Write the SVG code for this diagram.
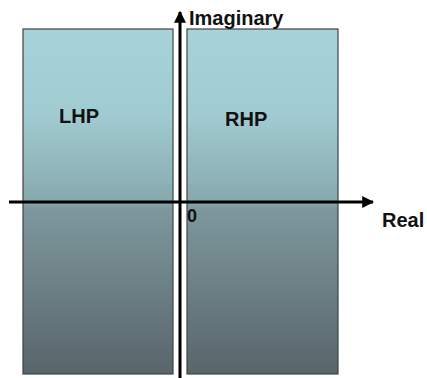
<svg xmlns="http://www.w3.org/2000/svg" width="427" height="378" viewBox="0 0 427 378">
<defs>
<linearGradient id="g" gradientUnits="userSpaceOnUse" x1="0" y1="29" x2="0" y2="374">
<stop offset="0" stop-color="#a7d3d8"/>
<stop offset="0.25" stop-color="#a0cbd0"/>
<stop offset="0.5" stop-color="#87a9ae"/>
<stop offset="0.52" stop-color="#7d989d"/>
<stop offset="1" stop-color="#59656b"/>
</linearGradient>
<marker id="ah" viewBox="0 0 10 10" refX="9" refY="5" markerWidth="4" markerHeight="4" orient="auto" markerUnits="strokeWidth">
<path d="M0,0 L10,5 L0,10 z" fill="#000"/>
</marker>
<style>
.half{fill:url(#g);stroke:#3f4446;stroke-width:1.2}
.lbl{font-family:"Liberation Sans",Arial,sans-serif;font-weight:bold;fill:#111}
.ax{stroke:#000;stroke-width:3;fill:none}
</style>
</defs>
<rect width="427" height="378" fill="#fff"/>
<g id="lhp"><rect class="half" x="23" y="29" width="150" height="345"/><text class="lbl" x="59" y="123" font-size="20">LHP</text></g>
<g id="rhp"><rect class="half" x="187" y="29" width="151" height="345"/><text class="lbl" x="225" y="126" font-size="20">RHP</text></g>
<g id="connectors">
<line class="ax" x1="9" y1="202" x2="373" y2="202" marker-end="url(#ah)"/>
<line class="ax" x1="180" y1="378" x2="180" y2="12" marker-end="url(#ah)"/>
</g>
<g id="labels">
<text class="lbl" x="189" y="25" font-size="20">Imaginary</text>
<text class="lbl" x="382" y="227" font-size="20">Real</text>
<text class="lbl" x="187" y="222" font-size="18" fill="#222">0</text>
</g>
</svg>
